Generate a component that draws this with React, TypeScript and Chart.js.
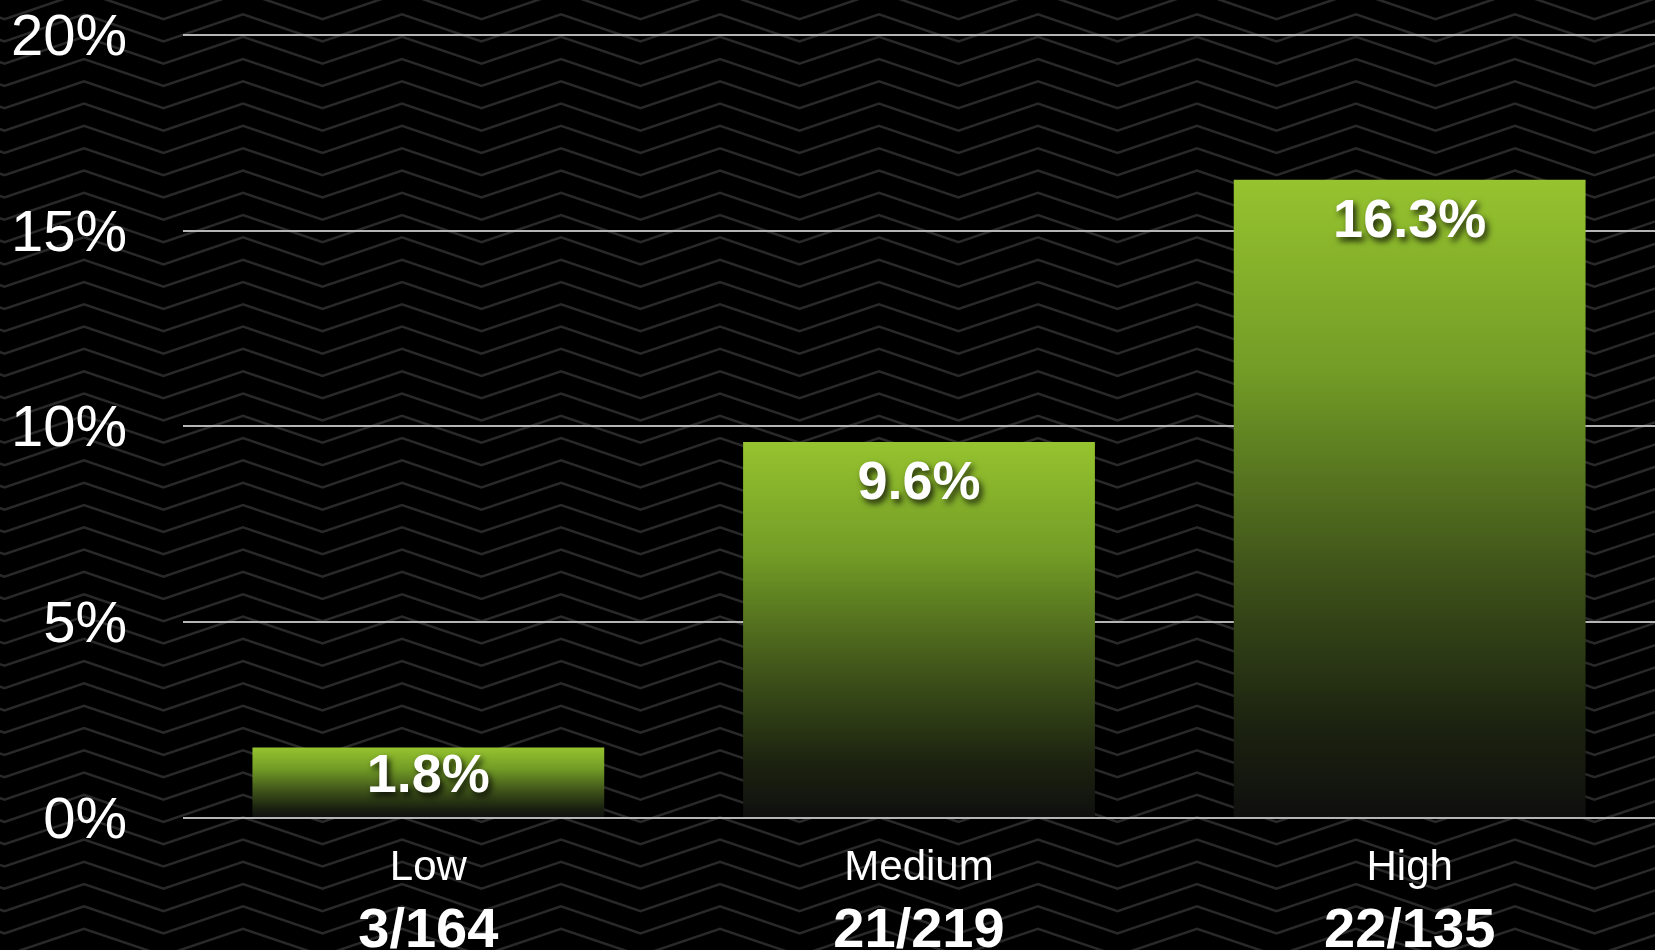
import React, { useEffect, useRef } from "react";
import { Chart, registerables } from "chart.js";

Chart.register(...registerables);

const categories = ["Low", "Medium", "High"];
const counts = ["3/164", "21/219", "22/135"];
const rates = [1.8, 9.6, 16.3];
const yMin = 0;
const yMax = 20;
const yStep = 5;

const FONT = "'Liberation Sans', Arial, Helvetica, sans-serif";

const zigzagBackground = {
  id: "zigzagBackground",
  beforeDraw(chart: any) {
    const { ctx, width, height } = chart;
    ctx.save();
    ctx.fillStyle = "#000";
    ctx.fillRect(0, 0, width, height);
    ctx.strokeStyle = "rgba(255,255,255,0.16)";
    ctx.lineWidth = 2.5;
    ctx.lineJoin = "miter";
    const half = 79.5;
    const amp = 27;
    const gap = 22.3;
    for (let y0 = 14.4 - gap * 3; y0 < height + gap; y0 += gap) {
      ctx.beginPath();
      let x = 84 - 159;
      let up = true;
      ctx.moveTo(x, y0);
      while (x < width + half) {
        x += half;
        up = !up;
        ctx.lineTo(x, up ? y0 : y0 + amp);
      }
      ctx.stroke();
    }
    ctx.restore();
  },
};

const valueLabels = {
  id: "valueLabels",
  afterDatasetsDraw(chart: any) {
    const { ctx } = chart;
    const meta = chart.getDatasetMeta(0);
    const base = chart.scales.y.getPixelForValue(0);
    ctx.save();
    ctx.font = `bold 54px ${FONT}`;
    ctx.textAlign = "center";
    ctx.textBaseline = "middle";
    ctx.fillStyle = "#fff";
    ctx.shadowColor = "rgba(0,0,0,0.8)";
    ctx.shadowBlur = 6;
    ctx.shadowOffsetX = 3;
    ctx.shadowOffsetY = 4;
    meta.data.forEach((bar: any, i: number) => {
      const top = bar.y;
      const y = Math.min(top + 42, (top + base) / 2 - 6);
      ctx.fillText(rates[i].toFixed(1) + "%", bar.x, y);
    });
    ctx.restore();
  },
};

function barGradient(c: any) {
  const chart = c.chart;
  const { ctx, chartArea, scales } = chart;
  if (!chartArea || c.type !== "data" || !scales.y) return "#8fbc2b";
  const v = c.parsed ? c.parsed.y : c.raw;
  const top = scales.y.getPixelForValue(v);
  const bot = scales.y.getPixelForValue(0);
  const g = ctx.createLinearGradient(0, top, 0, bot);
  g.addColorStop(0, "#96c32f");
  g.addColorStop(0.3, "#729c26");
  g.addColorStop(0.6, "#41561a");
  g.addColorStop(0.85, "#1c2310");
  g.addColorStop(1, "#0f0f0e");
  return g;
}

export default function App() {
  const ref = useRef<HTMLCanvasElement | null>(null);

  useEffect(() => {
    document.body.style.background = "#000";
    const canvas = ref.current;
    if (!canvas) return;
    const chart = new Chart(canvas, {
      type: "bar",
      data: {
        labels: categories,
        datasets: [
          {
            data: rates,
            backgroundColor: barGradient,
            borderWidth: 0,
            categoryPercentage: 1,
            barPercentage: 0.717,
          },
        ],
      },
      options: {
        responsive: false,
        animation: false,
        devicePixelRatio: 1,
        layout: { padding: { top: 34, left: 0, right: 0, bottom: 0 } },
        plugins: {
          legend: { display: false },
          tooltip: { enabled: false },
          title: { display: false },
        },
        scales: {
          x: {
            type: "category",
            position: "bottom",
            offset: true,
            grid: { display: false, drawTicks: false },
            border: { display: false },
            ticks: {
              color: "#fff",
              font: { family: FONT, size: 42 },
              padding: 25,
              maxRotation: 0,
              autoSkip: false,
            },
            afterFit: (s: any) => {
              s.height = 75;
            },
          },
          x2: {
            type: "category",
            position: "bottom",
            labels: counts,
            offset: true,
            grid: { display: false, drawTicks: false },
            border: { display: false },
            ticks: {
              color: "#fff",
              font: { family: FONT, size: 56, weight: "bold" },
              padding: 5,
              maxRotation: 0,
              autoSkip: false,
            },
            afterFit: (s: any) => {
              s.height = 57;
            },
          },
          y: {
            min: yMin,
            max: yMax,
            grid: {
              color: "#b5b5b5",
              lineWidth: 2,
              drawTicks: true,
              tickLength: 56,
              tickColor: "rgba(0,0,0,0)",
            },
            border: { display: false },
            ticks: {
              stepSize: yStep,
              color: "#fff",
              font: { family: FONT, size: 58 },
              padding: 0,
              labelOffset: 4,
              callback: (v: any) => v + "%",
            },
            afterFit: (s: any) => {
              s.width = 183;
            },
          },
        },
      } as any,
      plugins: [zigzagBackground, valueLabels],
    });
    return () => chart.destroy();
  }, []);

  return (
    <div style={{ position: "fixed", left: 0, top: 0, width: 1655, height: 950, background: "#000" }}>
      <canvas ref={ref} width={1655} height={950} style={{ display: "block", width: 1655, height: 950 }} />
    </div>
  );
}
